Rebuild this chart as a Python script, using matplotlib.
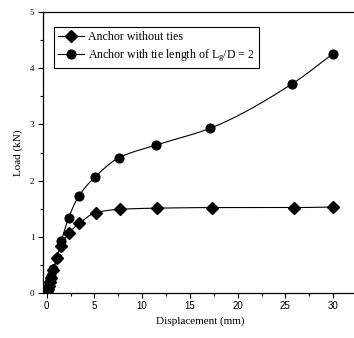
import numpy as np
import matplotlib
matplotlib.use("Agg")
import matplotlib.pyplot as plt
from matplotlib.ticker import MultipleLocator

plt.rcParams['mathtext.fontset'] = 'custom'
plt.rcParams['mathtext.rm'] = 'Liberation Serif'
plt.rcParams['mathtext.it'] = 'Liberation Serif:italic'

# Load-displacement data
disp_no_ties = [0, 0.05, 0.1, 0.2, 0.3, 0.4, 0.7, 1.05, 1.46, 2.3, 3.41, 5.15, 7.7, 11.5, 17.3, 25.9, 30.0]
load_no_ties = [0, 0.03, 0.07, 0.13, 0.2, 0.27, 0.41, 0.62, 0.84, 1.06, 1.24, 1.43, 1.49, 1.51, 1.52, 1.52, 1.53]

disp_ties = [0, 0.05, 0.1, 0.2, 0.3, 0.45, 0.7, 1.05, 1.53, 2.3, 3.38, 5.1, 7.6, 11.4, 17.1, 25.7, 30.0]
load_ties = [0, 0.04, 0.08, 0.14, 0.22, 0.3, 0.42, 0.62, 0.92, 1.34, 1.73, 2.07, 2.41, 2.63, 2.93, 3.72, 4.26]

label_no_ties = "Anchor without ties"
label_ties = r"Anchor with tie length of L$_{\mathrm{g}}$/D = 2"


def pchip(x, y, xs):
    x = np.asarray(x, float)
    y = np.asarray(y, float)
    h = np.diff(x)
    delta = np.diff(y) / h
    n = len(x)
    d = np.zeros(n)
    for k in range(1, n - 1):
        if delta[k - 1] * delta[k] > 0:
            w1 = 2 * h[k] + h[k - 1]
            w2 = h[k] + 2 * h[k - 1]
            d[k] = (w1 + w2) / (w1 / delta[k - 1] + w2 / delta[k])
    d[0] = delta[0]
    d[-1] = delta[-1]
    idx = np.clip(np.searchsorted(x, xs) - 1, 0, n - 2)
    t = (xs - x[idx]) / h[idx]
    h00 = 2 * t**3 - 3 * t**2 + 1
    h10 = t**3 - 2 * t**2 + t
    h01 = -2 * t**3 + 3 * t**2
    h11 = t**3 - t**2
    return h00 * y[idx] + h10 * h[idx] * d[idx] + h01 * y[idx + 1] + h11 * h[idx] * d[idx + 1]


fig = plt.figure(figsize=(3.54, 3.38), dpi=100)
W, H = 354, 338
ax = fig.add_axes([42.7 / W, (H - 293) / H, (357 - 42.7) / W, 281 / H])

for xd, yd in [(disp_no_ties, load_no_ties), (disp_ties, load_ties)]:
    xs = np.linspace(xd[0], xd[-1], 800)
    ax.plot(xs, pchip(xd, yd, xs), color='black', lw=0.8)

ax.plot(disp_no_ties, load_no_ties, linestyle='none', marker='D', ms=5.8,
        color='black')
ax.plot(disp_ties, load_ties, linestyle='none', marker='o', ms=6.3,
        color='black')

h1, = ax.plot([], [], color='black', lw=0.8, marker='D', ms=5.8)
h2, = ax.plot([], [], color='black', lw=0.8, marker='o', ms=6.3)
leg = ax.legend([h1, h2], [label_no_ties, label_ties], loc='upper left',
                bbox_to_anchor=(0.036, 0.948), borderaxespad=0,
                frameon=True, fancybox=False,
                edgecolor='black', framealpha=1, borderpad=0.35,
                handlelength=2.2, handletextpad=0.3, labelspacing=0.35,
                prop={'family': 'Liberation Serif', 'size': 8.6})
leg.get_frame().set_linewidth(0.8)

ax.set_xlim(-0.42, 32.5)
ax.set_ylim(0, 5)
ax.xaxis.set_major_locator(MultipleLocator(5))
ax.xaxis.set_minor_locator(MultipleLocator(2.5))
ax.yaxis.set_major_locator(MultipleLocator(1))
ax.yaxis.set_minor_locator(MultipleLocator(0.5))
ax.tick_params(axis='both', which='major', direction='out', length=3.5,
               width=0.8, pad=2.5)
ax.tick_params(axis='both', which='minor', direction='out', length=2,
               width=0.8)
ax.tick_params(top=False, right=False)
for lbl in ax.get_xticklabels():
    lbl.set_fontfamily('Liberation Sans')
    lbl.set_fontsize(7)
for lbl in ax.get_yticklabels():
    lbl.set_fontfamily('Liberation Serif')
    lbl.set_fontsize(6.5)
for s in ax.spines.values():
    s.set_linewidth(0.9)
ax.spines['right'].set_visible(False)

ax.set_xlabel('Displacement (mm)', family='Liberation Serif', fontsize=8,
              labelpad=4)
ax.set_ylabel('Load (kN)', family='Liberation Serif', fontsize=8,
              labelpad=5)

fig.savefig('out.png', dpi=100)
